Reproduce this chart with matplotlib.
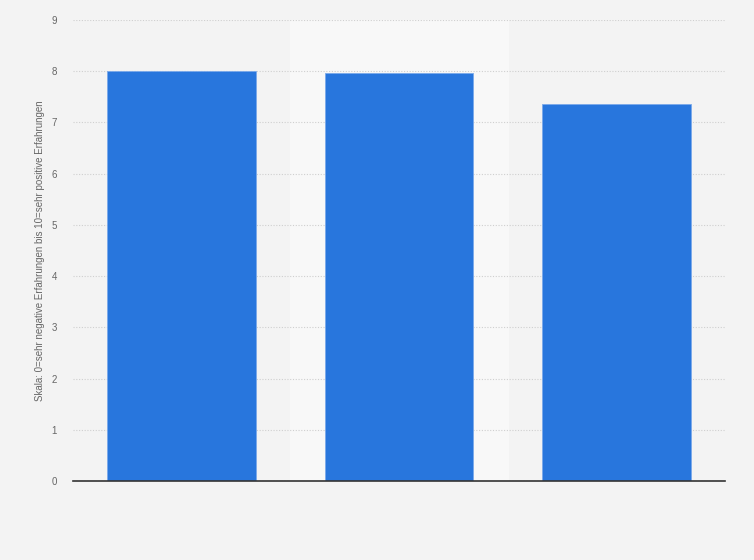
import matplotlib
matplotlib.use("Agg")
import matplotlib.pyplot as plt

plt.rcParams["font.family"] = ["Liberation Sans", "DejaVu Sans"]

categories = ["A", "B", "C"]
values = [8.01, 7.97, 7.36]
yticks = [0, 1, 2, 3, 4, 5, 6, 7, 8, 9]
ylabel = "Skala: 0=sehr negative Erfahrungen bis 10=sehr positive Erfahrungen"

W, H = 754, 560
fig = plt.figure(figsize=(W / 100, H / 100), dpi=100)
fig.patch.set_facecolor("#f3f3f3")
ax = fig.add_axes([73 / W, (H - 481) / H, (725 - 73) / W, (481 - 20) / H])
ax.set_facecolor("#f3f3f3")

x = list(range(len(categories)))
# highlight band behind the middle category
ax.axvspan(0.5, 1.5, color="#f8f8f8", zorder=0)

ax.bar(x, values, width=0.685, color="#2876dd", edgecolor="#7aa9ea", linewidth=0.6, zorder=3)

ax.set_xlim(-0.5, len(categories) - 0.5)
ax.set_ylim(0, 9)
ax.set_yticks(yticks)
ax.set_yticklabels([str(t) for t in yticks], fontsize=7, color="#666666")
ax.set_xticks(x)
ax.set_xticklabels([""] * len(categories))
ax.tick_params(axis="y", length=0, pad=11.5)
ax.tick_params(axis="x", length=0)
ax.yaxis.grid(True, linestyle=(0, (1, 1.5)), color="#cfcfcf", linewidth=0.8, zorder=1)
for s in ["top", "right", "left"]:
    ax.spines[s].set_visible(False)
ax.spines["bottom"].set_color("#333333")
ax.spines["bottom"].set_linewidth(1.2)
ax.spines["bottom"].set_zorder(4)

ax.set_ylabel(ylabel, fontsize=7, color="#666666", va="center")
ax.yaxis.set_label_coords((40 - 73) / (725 - 73), 0.5)

fig.savefig("out.png", dpi=100, facecolor=fig.get_facecolor())
